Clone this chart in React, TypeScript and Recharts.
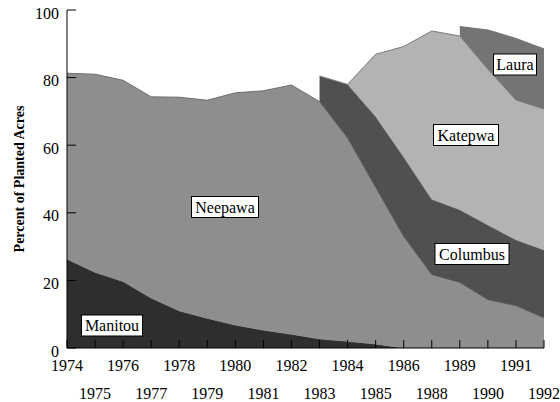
import React from 'react';
import { AreaChart, Area, XAxis, YAxis } from 'recharts';

const years = [
  '1974', '1975', '1976', '1977', '1978', '1979', '1980', '1981', '1982',
  '1983', '1984', '1985', '1986', '1988', '1989', '1990', '1991', '1992',
];
const manitou = [26.3, 22.4, 19.7, 14.8, 11.0, 8.8, 6.8, 5.3, 4.1, 2.7, 2.0, 1.2, 0, null, null, null, null, null];
const neepawa = [55.0, 58.6, 59.5, 59.5, 63.2, 64.5, 68.7, 70.8, 73.7, 70.2, 60.1, 46.3, 33.0, 21.7, 19.4, 14.3, 12.5, 8.9];
const columbus = [null, null, null, null, null, null, null, null, null, 7.6, 15.9, 21.0, 23.5, 22.3, 21.5, 22.1, 19.5, 20.1];
const katepwa = [null, null, null, null, null, null, null, null, null, null, 0, 18.4, 32.7, 49.8, 51.4, 46.1, 41.4, 41.7];
const laura = [null, null, null, null, null, null, null, null, null, null, null, null, null, null, 2.8, 11.6, 18.2, 17.8];
const yTicks = [0, 20, 40, 60, 80, 100];

const data = years.map((year, i) => ({
  year,
  Manitou: manitou[i],
  Neepawa: neepawa[i],
  Columbus: columbus[i],
  Katepwa: katepwa[i],
  Laura: laura[i],
}));

const serif = '"Liberation Serif", "Times New Roman", serif';

// boxed series names drawn over the plot
const tags = [
  { text: 'Manitou', cx: 112, cy: 325.5, w: 61 },
  { text: 'Neepawa', cx: 225, cy: 207, w: 67 },
  { text: 'Columbus', cx: 472, cy: 254, w: 74 },
  { text: 'Katepwa', cx: 466, cy: 135, w: 65 },
  { text: 'Laura', cx: 515, cy: 64.5, w: 43 },
];

const XTick = (props: any) => {
  const { x, y, payload, index } = props;
  const row = index % 2 === 0 ? 22.5 : 51;
  return (
    <g>
      <line x1={x} y1={y} x2={x} y2={y - 8} stroke="#000" strokeWidth={1} />
      <text x={x} y={y + row} textAnchor="middle" fontFamily={serif} fontSize={16} fill="#000">
        {payload.value}
      </text>
    </g>
  );
};

const YTick = (props: any) => {
  const { x, y, payload } = props;
  return (
    <g>
      <line x1={x + 8} y1={y} x2={x + 17} y2={y} stroke="#000" strokeWidth={1} />
      <text x={x} y={y + 8.5} textAnchor="end" fontFamily={serif} fontSize={16} fill="#000">
        {payload.value}
      </text>
    </g>
  );
};

const YLabel = (props: any) => {
  const { viewBox } = props;
  const cx = viewBox.x + 19;
  const cy = viewBox.y + viewBox.height / 2;
  return (
    <text
      x={cx}
      y={cy}
      transform={`rotate(-90, ${cx}, ${cy})`}
      textAnchor="middle"
      dominantBaseline="central"
      fontFamily={serif}
      fontWeight="bold"
      fontSize={14}
      fill="#000"
    >
      Percent of Planted Acres
    </text>
  );
};

export default function App() {
  return (
    <div style={{ position: 'absolute', left: 0, top: 0, width: 560, height: 402, background: '#fff' }}>
      <AreaChart width={560} height={402} data={data} margin={{ top: 10, right: 16, left: 0, bottom: 0 }}>
        <XAxis
          dataKey="year"
          interval={0}
          height={54}
          tickSize={0}
          tickMargin={0}
          tick={<XTick />}
          axisLine={{ stroke: '#000' }}
        />
        <XAxis xAxisId="top" dataKey="year" orientation="top" height={0} tick={false} tickLine={false} axisLine={{ stroke: '#666' }} />
        <YAxis
          domain={[0, 100]}
          ticks={yTicks}
          width={67}
          tickSize={0}
          tickMargin={8}
          tick={<YTick />}
          axisLine={{ stroke: '#000' }}
          label={<YLabel />}
        />
        <YAxis yAxisId="right" orientation="right" domain={[0, 100]} width={0} tick={false} tickLine={false} axisLine={{ stroke: '#666' }} />
        <Area type="linear" dataKey="Manitou" stackId="a" fill="#2e2e2e" fillOpacity={1} stroke="#8a8a8a" strokeWidth={1} isAnimationActive={false} />
        <Area type="linear" dataKey="Neepawa" stackId="a" fill="#8e8e8e" fillOpacity={1} stroke="#6e6e6e" strokeWidth={1} isAnimationActive={false} />
        <Area type="linear" dataKey="Columbus" stackId="a" fill="#505050" fillOpacity={1} stroke="#858585" strokeWidth={1} isAnimationActive={false} />
        <Area type="linear" dataKey="Katepwa" stackId="a" fill="#b3b3b3" fillOpacity={1} stroke="#7a7a7a" strokeWidth={1} isAnimationActive={false} />
        <Area type="linear" dataKey="Laura" stackId="a" fill="#747474" fillOpacity={1} stroke="#747474" strokeWidth={1} isAnimationActive={false} />
      </AreaChart>
      <svg width={560} height={402} style={{ position: 'absolute', left: 0, top: 0, pointerEvents: 'none' }}>
        {tags.map((t) => (
          <g key={t.text}>
            <rect x={t.cx - t.w / 2} y={t.cy - 10.5} width={t.w} height={21} fill="#fff" stroke="#000" strokeWidth={1} />
            <text x={t.cx} y={t.cy + 5.5} textAnchor="middle" fontFamily={serif} fontSize={16} fill="#000">
              {t.text}
            </text>
          </g>
        ))}
      </svg>
    </div>
  );
}
